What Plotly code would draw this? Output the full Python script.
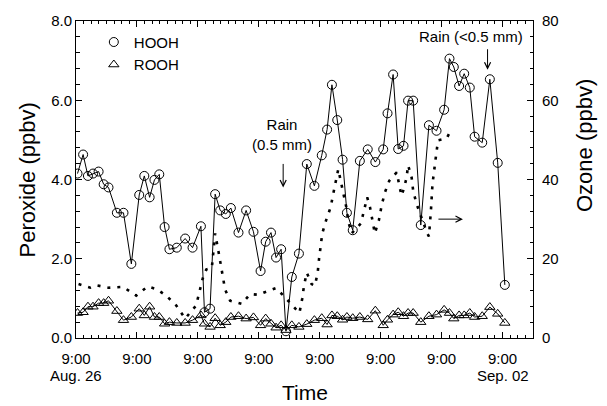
import plotly.graph_objects as go

# Time in hours since 9:00 Aug. 26
hours = [0.6, 2.8, 4.7, 6.7, 8.9, 10.9, 12.8, 16.1, 18.7, 21.8,
         24.9, 26.9, 29.0, 30.9, 32.8, 34.9, 36.8, 39.7, 43.0, 45.9,
         49.2, 50.6, 52.8, 54.8, 56.8, 59.0, 61.0, 64.0, 67.0, 69.9,
         72.7, 74.7, 76.8, 78.8, 80.8, 82.7, 85.0, 87.8, 90.9, 93.9,
         96.8, 98.9, 100.8, 102.9, 105.0, 106.7, 109.0, 111.8, 114.9, 117.9,
         121.0, 122.7, 124.9, 126.9, 129.0, 130.8, 132.8, 135.8, 139.0, 142.0,
         145.0, 147.1, 148.8, 150.9, 152.9, 155.1, 157.0, 160.0, 163.0, 166.1,
         168.9]

hooh = [4.15, 4.63, 4.09, 4.15, 4.20, 3.88, 3.80, 3.16, 3.16, 1.87,
        3.61, 4.09, 3.55, 3.99, 4.13, 2.80, 2.24, 2.28, 2.51, 2.28,
        2.82, 0.65, 0.74, 3.63, 3.22, 3.13, 3.28, 2.66, 3.22, 2.68,
        1.69, 2.43, 2.66, 2.03, 2.24, 0.17, 1.54, 2.13, 4.39, 3.84,
        4.61, 5.26, 6.39, 5.50, 4.50, 3.16, 2.72, 4.47, 4.76, 4.44,
        4.76, 5.67, 6.65, 4.77, 4.85, 5.99, 5.99, 2.85, 5.37, 5.23,
        5.76, 7.05, 6.84, 6.36, 6.67, 6.32, 5.08, 4.93, 6.53, 4.42,
        1.34]

rooh = [0.63, 0.65, 0.79, 0.79, 0.88, 0.88, 0.94, 0.68, 0.45, 0.53,
        0.74, 0.57, 0.79, 0.53, 0.53, 0.36, 0.40, 0.38, 0.38, 0.45,
        0.57, 0.36, 0.28, 0.50, 0.32, 0.40, 0.53, 0.55, 0.49, 0.52,
        0.32, 0.49, 0.36, 0.26, 0.32, 0.20, 0.32, 0.28, 0.35, 0.45,
        0.50, 0.34, 0.57, 0.55, 0.46, 0.53, 0.50, 0.53, 0.47, 0.69,
        0.32, 0.46, 0.59, 0.65, 0.55, 0.63, 0.63, 0.40, 0.55, 0.59,
        0.71, 0.63, 0.49, 0.57, 0.57, 0.63, 0.53, 0.55, 0.78, 0.61,
        0.38]

ozone_hours = [1.0, 5.6, 8.0, 12.8, 18.5, 23.7, 28.2, 31.9, 35.5, 39.5,
               43.0, 47.3, 49.9, 51.3, 53.5, 54.8, 56.1, 57.4, 58.7, 60.7,
               65.3, 68.6, 71.9, 74.1, 78.7, 81.4, 88.0, 89.1, 89.8, 90.9,
               92.8, 94.1, 95.2, 95.7, 97.0, 98.5, 100.3, 101.3, 102.3, 103.3,
               105.5, 106.6, 107.2, 108.6, 112.2, 113.5, 114.7, 115.8, 116.7, 117.7,
               119.3, 120.4, 121.7, 123.4, 126.3, 128.2, 129.3, 130.2, 130.8, 132.2,
               132.8, 134.1, 138.1, 139.0, 139.8, 140.1, 140.4, 141.6, 142.6, 146.0,
               147.9]
ozone = [13.6, 12.7, 13.3, 12.7, 12.9, 10.7, 13.0, 12.3, 10.7, 8.2,
         4.9, 8.2, 15.0, 17.3, 17.7, 26.4, 21.9, 16.9, 12.3, 9.4,
         8.6, 11.1, 10.9, 11.5, 12.6, 10.9, 6.3, 9.9, 13.2, 16.5,
         13.6, 13.2, 16.5, 19.8, 26.4, 29.7, 33.0, 36.3, 39.9, 42.6,
         35.9, 32.6, 29.5, 26.4, 28.9, 32.0, 35.5, 33.0, 29.5, 26.4,
         29.7, 33.5, 36.8, 39.7, 41.8, 35.9, 38.0, 40.5, 43.6, 40.5,
         37.2, 33.9, 26.8, 25.6, 32.2, 35.5, 38.8, 45.0, 49.9, 50.4,
         52.7]

day_ticks = [0, 24, 48, 72, 96, 120, 144, 168]
day_labels = ["9:00"] * 8
date_labels = ["Aug. 26", "Sep. 02"]

FONT = "Liberation Sans, Arial, sans-serif"
BLACK = "black"

W, H = 607, 406
# plot area in page pixels
PL, PR, PT, PB = 76, 533, 16, 338
PW, PH = PR - PL, PB - PT


def px(xp):
    return (xp - PL) / PW


def py(yp):
    return (PB - yp) / PH


fig = go.Figure()

fig.add_trace(go.Scatter(
    x=ozone_hours, y=ozone, yaxis="y2", mode="lines",
    line=dict(color=BLACK, width=2.6, dash="3px,7px"),
    showlegend=False))

fig.add_trace(go.Scatter(
    x=hours, y=hooh, mode="lines+markers",
    line=dict(color=BLACK, width=1),
    marker=dict(symbol="circle-open", size=9, color=BLACK, line=dict(width=1)),
    showlegend=False))

fig.add_trace(go.Scatter(
    x=hours, y=rooh, mode="lines+markers",
    line=dict(color=BLACK, width=1),
    marker=dict(symbol="triangle-up-open", size=9, color=BLACK, line=dict(width=1)),
    showlegend=False))

# legend entries (symbols only)
fig.add_trace(go.Scatter(x=[None], y=[None], mode="markers", name="HOOH",
                         marker=dict(symbol="circle-open", size=9, color=BLACK, line=dict(width=1))))
fig.add_trace(go.Scatter(x=[None], y=[None], mode="markers", name="ROOH",
                         marker=dict(symbol="triangle-up-open", size=9, color=BLACK, line=dict(width=1))))

axis_common = dict(showgrid=False, zeroline=False, showline=True, linecolor=BLACK,
                   linewidth=1, ticks="inside", tickcolor=BLACK, tickwidth=1,
                   tickfont=dict(family=FONT, size=15, color=BLACK))

fig.update_layout(
    width=W, height=H,
    margin=dict(l=PL, r=W - PR, t=PT, b=H - PB),
    paper_bgcolor="white", plot_bgcolor="white",
    font=dict(family=FONT, color=BLACK),
    xaxis=dict(range=[0, 180], tickvals=day_ticks, ticktext=day_labels,
               ticklen=6, mirror="ticks", ticklabelstandoff=7,
               minor=dict(dtick=3, ticklen=3, ticks="inside", tickcolor=BLACK),
               **axis_common),
    yaxis=dict(range=[0, 8], dtick=2, tickformat=".1f", ticklen=6,
               minor=dict(dtick=0.4, ticklen=3.5, ticks="inside", tickcolor=BLACK),
               **axis_common),
    yaxis2=dict(range=[0, 80], dtick=20, overlaying="y", side="right", ticklen=6,
                ticklabelstandoff=5,
                minor=dict(dtick=4, ticklen=3.5, ticks="inside", tickcolor=BLACK),
                **axis_common),
    legend=dict(x=0.039, y=0.985, xanchor="left", yanchor="top",
                font=dict(family=FONT, size=15, color=BLACK),
                bgcolor="rgba(0,0,0,0)", itemwidth=30, tracegroupgap=0),
)

# Date labels under first/last ticks
for xv, txt in zip([day_ticks[0], day_ticks[-1]], date_labels):
    fig.add_annotation(x=xv, y=0, xref="x", yref="paper", text=txt, showarrow=False,
                       xanchor="center", yanchor="middle", yshift=-(375 - PB),
                       font=dict(family=FONT, size=15, color=BLACK))

# Axis titles
fig.add_annotation(x=0.5, y=0, xref="paper", yref="paper", text="Time", showarrow=False,
                   xanchor="center", yanchor="middle", yshift=-(392 - PB),
                   font=dict(family=FONT, size=21, color=BLACK))
fig.add_annotation(x=px(27), y=py(178), xref="paper", yref="paper", text="Peroxide (ppbv)",
                   showarrow=False, textangle=-90, xanchor="center", yanchor="middle",
                   font=dict(family=FONT, size=22, color=BLACK))
fig.add_annotation(x=px(584), y=py(143), xref="paper", yref="paper", text="Ozone (ppbv)",
                   showarrow=False, textangle=-90, xanchor="center", yanchor="middle",
                   font=dict(family=FONT, size=22, color=BLACK))

# Rain annotations
fig.add_annotation(x=81.0, y=4.2, xref="x", yref="y", text="Rain<br>(0.5 mm)", showarrow=False,
                   xanchor="center", yanchor="middle", yshift=37,
                   font=dict(family=FONT, size=15, color=BLACK))
fig.add_annotation(x=81.6, y=3.8, xref="x", yref="y", text="", showarrow=True,
                   ax=0, ay=-25, arrowhead=5, arrowsize=1.2, arrowwidth=1, arrowcolor=BLACK)
fig.add_annotation(x=155.5, y=7.6, xref="x", yref="y", text="Rain (<0.5 mm)", showarrow=False,
                   xanchor="center", yanchor="middle",
                   font=dict(family=FONT, size=15, color=BLACK))
fig.add_annotation(x=162.1, y=6.77, xref="x", yref="y", text="", showarrow=True,
                   ax=0, ay=-22, arrowhead=5, arrowsize=1.2, arrowwidth=1, arrowcolor=BLACK)
# Ozone -> right axis arrow
fig.add_annotation(x=152.4, y=3.0, xref="x", yref="y", text="", showarrow=True,
                   ax=-26, ay=0, arrowhead=5, arrowsize=1.2, arrowwidth=1, arrowcolor=BLACK)

# remove the default 8px page margin so the figure fills the window exactly
fig.write_html(
    "out.html",
    config={"displayModeBar": False, "staticPlot": True},
    post_script="document.body.style.margin='0';document.body.style.padding='0';"
                "document.documentElement.style.overflow='hidden';")
